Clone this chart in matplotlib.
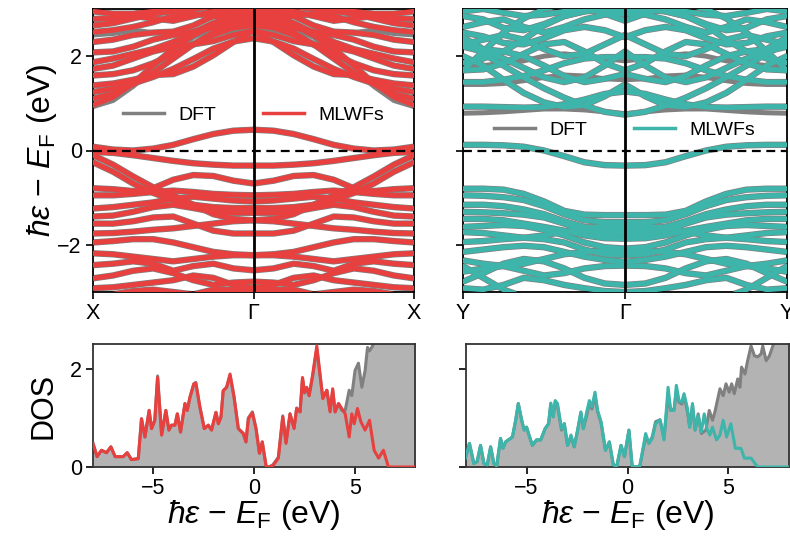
import numpy as np
import matplotlib
matplotlib.use("Agg")
import matplotlib.pyplot as plt

plt.rcParams['font.family'] = ['Liberation Sans', 'DejaVu Sans']
plt.rcParams['mathtext.fontset'] = 'custom'
plt.rcParams['mathtext.rm'] = 'Liberation Sans'
plt.rcParams['mathtext.it'] = 'Liberation Sans:italic'
plt.rcParams['mathtext.bf'] = 'Liberation Sans:bold'

# ---------------- data ----------------
# k-points along half path (high-symmetry edge -> Gamma), fractional
k_half = [0.0, 0.125, 0.25, 0.375, 0.5, 0.625, 0.75, 0.875, 1.0]

# Left panel (X - Gamma - X): energies along X -> Gamma (eV)
bands_x_mlwf = [
    [0.96, 1.13, 1.42, 1.80, 2.16, 2.44, 2.65, 2.79, 2.86],
    [1.24, 1.31, 1.42, 1.56, 1.73, 1.94, 2.16, 2.31, 2.38],
    [1.10, 1.20, 1.40, 1.65, 1.95, 2.25, 2.50, 2.68, 2.75],
    [1.38, 1.42, 1.50, 1.60, 1.62, 1.78, 2.02, 2.30, 2.54],
    [1.59, 1.62, 1.70, 1.85, 2.05, 2.25, 2.45, 2.60, 2.65],
    [1.73, 1.80, 1.95, 2.10, 2.20, 2.25, 2.32, 2.45, 2.54],
    [1.87, 1.95, 2.05, 2.15, 2.30, 2.50, 2.70, 2.85, 2.93],
    [2.08, 2.10, 2.20, 2.35, 2.45, 2.52, 2.60, 2.70, 2.72],
    [2.30, 2.35, 2.45, 2.50, 2.52, 2.65, 2.85, 2.95, 3.00],
    [2.51, 2.55, 2.62, 2.72, 2.85, 2.90, 2.85, 2.80, 2.79],
    [2.65, 2.70, 2.80, 2.90, 2.95, 3.00, 3.05, 3.10, 3.10],
    [2.79, 2.80, 2.85, 2.80, 2.75, 2.85, 2.95, 2.95, 2.93],
    [2.95, 2.90, 2.90, 2.95, 3.05, 3.10, 3.10, 3.05, 3.00],
    [0.08, 0.02, 0.00, 0.04, 0.12, 0.24, 0.35, 0.42, 0.44],
    [-0.03, -0.05, -0.10, -0.16, -0.22, -0.27, -0.30, -0.32, -0.32],
    [-0.10, -0.30, -0.55, -0.78, -0.95, -1.15, -1.35, -1.45, -1.48],
    [-0.25, -0.45, -0.70, -0.90, -1.05, -1.15, -1.20, -1.22, -1.22],
    [-0.80, -0.82, -0.86, -0.80, -0.62, -0.52, -0.54, -0.64, -0.70],
    [-0.95, -0.95, -0.92, -0.88, -0.85, -0.88, -0.92, -0.94, -0.95],
    [-1.23, -1.20, -1.15, -1.10, -1.02, -0.98, -1.02, -1.06, -1.08],
    [-1.40, -1.38, -1.30, -1.20, -1.15, -1.22, -1.30, -1.32, -1.32],
    [-1.55, -1.55, -1.50, -1.42, -1.40, -1.55, -1.70, -1.76, -1.76],
    [-1.76, -1.75, -1.72, -1.68, -1.65, -1.60, -1.55, -1.50, -1.48],
    [-1.95, -1.92, -1.88, -1.88, -1.95, -2.05, -2.15, -2.20, -2.22],
    [-2.18, -2.20, -2.25, -2.30, -2.35, -2.30, -2.25, -2.22, -2.22],
    [-2.43, -2.40, -2.35, -2.40, -2.55, -2.45, -2.40, -2.50, -2.54],
    [-2.71, -2.65, -2.55, -2.50, -2.60, -2.75, -2.85, -2.80, -2.78],
    [-2.92, -2.90, -2.85, -2.80, -2.75, -2.65, -2.70, -2.85, -2.92],
    [-3.10, -3.05, -2.98, -2.95, -3.00, -3.05, -2.95, -2.95, -3.00],
]
# DFT bands that deviate visibly from the Wannier bands (left)
bands_x_dft_extra = [
    [0.93, 1.06, 1.36, 1.74, 2.10, 2.40, 2.60, 2.75, 2.82],
    [2.45, 2.48, 2.55, 2.50, 2.45, 2.45, 2.50, 2.52, 2.52],
]

# Right panel (Y - Gamma - Y): energies along Y -> Gamma (eV)
bands_y_mlwf = [
    [0.93, 0.93, 0.92, 0.91, 0.92, 0.98, 1.08, 1.20, 1.25],
    [2.00, 1.80, 1.50, 1.22, 1.02, 0.92, 0.96, 1.15, 1.40],
    [2.30, 2.05, 1.80, 1.55, 1.32, 1.12, 0.95, 0.82, 0.76],
    [1.45, 1.45, 1.50, 1.58, 1.70, 1.85, 1.95, 1.98, 1.98],
    [1.70, 1.72, 1.85, 2.05, 2.25, 2.30, 2.10, 1.85, 1.70],
    [1.86, 1.95, 2.10, 2.00, 1.80, 1.58, 1.45, 1.52, 1.62],
    [2.20, 2.10, 1.95, 1.75, 1.55, 1.45, 1.55, 1.80, 2.10],
    [2.25, 2.35, 2.45, 2.35, 2.15, 2.00, 2.05, 2.25, 2.45],
    [2.50, 2.42, 2.28, 2.25, 2.38, 2.55, 2.62, 2.55, 2.40],
    [2.62, 2.72, 2.78, 2.62, 2.50, 2.62, 2.78, 2.88, 2.90],
    [2.85, 2.78, 2.60, 2.55, 2.68, 2.85, 2.95, 2.98, 2.98],
    [2.95, 3.00, 2.92, 2.85, 2.88, 2.95, 3.05, 2.90, 2.75],
    [1.70, 2.10, 2.50, 2.80, 3.00, 3.10, 3.10, 3.10, 3.10],
    [2.40, 2.15, 2.10, 2.35, 2.65, 2.85, 2.95, 3.05, 3.10],
    [0.12, 0.12, 0.11, 0.08, 0.00, -0.12, -0.25, -0.31, -0.32],
    [-0.81, -0.81, -0.83, -0.92, -1.08, -1.28, -1.36, -1.37, -1.37],
    [-0.95, -0.96, -0.99, -1.05, -1.18, -1.35, -1.48, -1.52, -1.52],
    [-1.15, -1.15, -1.18, -1.25, -1.35, -1.50, -1.62, -1.66, -1.66],
    [-1.30, -1.31, -1.33, -1.36, -1.42, -1.55, -1.70, -1.76, -1.76],
    [-1.45, -1.45, -1.48, -1.55, -1.62, -1.70, -1.80, -1.86, -1.87],
    [-1.62, -1.60, -1.58, -1.60, -1.68, -1.80, -1.95, -2.05, -2.08],
    [-1.73, -1.75, -1.80, -1.85, -1.80, -1.72, -1.65, -1.60, -1.58],
    [-1.94, -1.92, -1.88, -1.85, -1.88, -1.95, -2.10, -2.20, -2.22],
    [-2.15, -2.10, -2.05, -2.02, -2.05, -2.15, -2.25, -2.32, -2.36],
    [-2.33, -2.40, -2.45, -2.40, -2.30, -2.20, -2.15, -2.12, -2.12],
    [-2.57, -2.50, -2.45, -2.55, -2.65, -2.60, -2.50, -2.45, -2.44],
    [-2.78, -2.60, -2.40, -2.30, -2.35, -2.50, -2.70, -2.82, -2.85],
    [-2.92, -2.95, -2.85, -2.70, -2.75, -2.85, -2.92, -2.98, -3.00],
    [-2.45, -2.70, -2.95, -3.10, -3.10, -3.10, -3.10, -3.10, -3.10],
]
bands_y_dft_extra = [
    [0.79, 0.80, 0.82, 0.85, 0.88, 0.88, 0.86, 0.82, 0.78],
    [1.40, 1.40, 1.42, 1.48, 1.55, 1.60, 1.58, 1.52, 1.50],
    [1.79, 1.80, 1.85, 1.90, 2.00, 2.05, 2.00, 1.95, 1.90],
]

# DOS, left system (X-Gamma): Wannier curve vertices
dos_x_e_mlwf = [-8.0, -7.8, -7.58, -7.33, -7.11, -6.9, -6.5, -6.3, -6.09, -5.75, -5.59,
                -5.42, -5.21, -5.09, -4.93, -4.79, -4.59, -4.38, -4.23, -4.1, -3.93, -3.81,
                -3.65, -3.43, -3.32, -3.18, -2.99, -2.89, -2.69, -2.47, -2.27, -2.11, -1.89,
                -1.77, -1.64, -1.53, -1.36, -1.19, -0.99, -0.78, -0.53, -0.4, -0.28, -0.08,
                0.1, 0.27, 0.41, 0.6, 0.71, 0.93, 1.21, 1.43, 1.59, 1.79, 1.99, 2.12, 2.29,
                2.41, 2.51, 2.62, 2.74, 2.92, 3.12, 3.28, 3.42, 3.62, 3.78, 3.91, 4.03, 4.2,
                4.36, 4.53, 4.73, 4.86, 4.98, 5.14, 5.31, 5.52, 5.74, 5.97, 6.19, 6.43, 6.68,
                8.0]
dos_x_mlwf = [0.48, 0.21, 0.34, 0.29, 0.41, 0.21, 0.21, 0.29, 0.15, 0.17, 0.98,
              0.61, 1.15, 0.78, 0.95, 1.82, 0.65, 1.15, 0.75, 0.85, 0.85, 1.08,
              0.71, 1.29, 1.15, 1.42, 1.69, 1.70, 1.22, 0.78, 0.85, 0.75, 1.11,
              0.88, 1.02, 1.55, 1.62, 1.89, 1.42, 0.78, 0.68, 0.51, 0.98, 1.10,
              0.78, 0.28, 0.51, 0.02, 0.0, 0.02, 0.18, 1.02, 0.48, 1.08, 0.78, 1.19, 1.12,
              1.82, 1.52, 1.62, 1.45, 1.89, 2.46, 1.89, 1.39, 1.56, 1.12, 1.59, 1.12, 1.29,
              1.19, 1.08, 0.61, 1.08, 0.88, 1.19, 0.92, 0.75, 0.95, 0.34, 0.18, 0.34, 0.0,
              0.0]
# DFT curve (left)
dos_x_e_dft = [-8.0, -7.8, -7.58, -7.33, -7.11, -6.9, -6.5, -6.3, -6.09, -5.75, -5.59,
               -5.42, -5.21, -5.09, -4.93, -4.79, -4.59, -4.38, -4.23, -4.1, -3.93, -3.81,
               -3.65, -3.43, -3.32, -3.18, -2.99, -2.89, -2.69, -2.47, -2.27, -2.11, -1.89,
               -1.77, -1.64, -1.53, -1.36, -1.19, -0.99, -0.78, -0.53, -0.4, -0.28, -0.08,
               0.1, 0.27, 0.41, 0.6, 0.71, 0.93, 1.21, 1.43, 1.59, 1.79, 1.99, 2.12, 2.29,
               2.41, 2.51, 2.62, 2.74, 2.92, 3.12, 3.28, 3.42, 3.62, 3.78, 3.91, 4.03, 4.2,
               4.36, 4.53, 4.73, 4.86, 5.02, 5.19, 5.36, 5.52, 5.64, 5.74, 5.85, 6.0, 6.3,
               6.8, 7.4, 8.0]
dos_x_dft = [0.48, 0.21, 0.34, 0.29, 0.41, 0.21, 0.21, 0.29, 0.15, 0.17, 0.98,
             0.61, 1.15, 0.78, 0.95, 1.85, 0.65, 1.15, 0.75, 0.85, 0.85, 1.08,
             0.71, 1.29, 1.15, 1.42, 1.69, 1.72, 1.22, 0.78, 0.85, 0.75, 1.11,
             0.88, 1.02, 1.55, 1.62, 1.86, 1.42, 0.78, 0.68, 0.51, 1.0, 1.12,
             0.78, 0.28, 0.51, 0.02, 0.0, 0.04, 0.2, 1.04, 0.5, 1.08, 0.8, 1.2, 1.12,
             1.80, 1.50, 1.60, 1.45, 1.86, 2.40, 1.86, 1.40, 1.56, 1.15, 1.56, 1.12, 1.29,
             1.15, 1.15, 1.56, 1.45, 1.96, 2.11, 1.62, 1.96, 2.43, 2.36, 2.43, 2.55, 2.7,
             2.9, 3.1, 3.2]

# DOS, right system (Y-Gamma)
dos_y_e_mlwf = [-8.03, -7.83, -7.61, -7.45, -7.28, -7.11, -6.95, -6.78, -6.62, -6.48, -6.29,
                -6.17, -6.04, -5.7, -5.54, -5.41, -5.24, -5.12, -5.0, -4.88, -4.71, -4.51,
                -4.3, -4.08, -3.91, -3.8, -3.68, -3.58, -3.47, -3.27, -3.13, -2.97, -2.8,
                -2.64, -2.47, -2.31, -2.19, -2.02, -1.89, -1.76, -1.61, -1.48, -1.31, -1.09,
                -0.9, -0.7, -0.53, -0.32, -0.15, 0.07, 0.23, 0.4, 0.61, 0.9, 1.06, 1.23,
                1.39, 1.61, 1.81, 2.01, 2.14, 2.31, 2.42, 2.55, 2.69, 2.8, 2.97, 3.08, 3.22,
                3.35, 3.5, 3.66, 3.8, 3.93, 4.08, 4.21, 4.41, 4.58, 4.74, 4.91, 5.12, 5.34,
                5.62, 5.79, 6.12, 6.45, 8.0]
dos_y_mlwf = [0.18, 0.48, 0.07, 0.11, 0.44, 0.07, 0.04, 0.41, 0.07, 0.02, 0.58,
              0.38, 0.51, 0.61, 0.95, 1.29, 0.95, 0.75, 0.81, 0.65, 0.44, 0.55,
              0.55, 0.78, 0.88, 1.30, 1.02, 1.35, 1.29, 0.78, 0.88, 0.44, 0.65,
              0.41, 0.75, 1.12, 0.78, 1.12, 1.35, 1.22, 1.52, 1.15, 0.92, 0.34,
              0.51, 0.04, 0.02, 0.44, 0.21, 0.75, 0.02, 0.0, 0.02, 0.68, 0.48, 0.58,
              0.88, 0.96, 0.55, 1.62, 1.15, 1.15, 1.66, 1.35, 1.32, 1.49, 1.19, 0.81, 1.29,
              0.75, 1.05, 0.71, 1.08, 0.78, 0.65, 0.81, 0.55, 0.65, 0.95, 0.61, 0.88, 0.38,
              0.38, 0.18, 0.18, 0.0, 0.0]
dos_y_e_dft = [-8.03, -7.83, -7.61, -7.45, -7.28, -7.11, -6.95, -6.78, -6.62, -6.48, -6.29,
               -6.17, -6.04, -5.7, -5.54, -5.41, -5.24, -5.12, -5.0, -4.88, -4.71, -4.51,
               -4.3, -4.08, -3.91, -3.8, -3.68, -3.58, -3.47, -3.27, -3.13, -2.97, -2.8,
               -2.64, -2.47, -2.31, -2.19, -2.02, -1.89, -1.76, -1.61, -1.48, -1.31, -1.09,
               -0.9, -0.7, -0.53, -0.32, -0.15, 0.07, 0.23, 0.4, 0.61, 0.9, 1.06, 1.23,
               1.39, 1.61, 1.81, 2.01, 2.14, 2.31, 2.42, 2.55, 2.69, 2.8, 2.97, 3.08, 3.22,
               3.35, 3.5, 3.66, 3.88, 4.05, 4.21, 4.33, 4.58, 4.74, 4.88, 5.04, 5.16, 5.29,
               5.46, 5.57, 5.65, 5.82, 5.95, 6.12, 6.29, 6.45, 6.62, 6.7, 6.87, 7.03, 7.2,
               7.28, 7.6, 8.0]
dos_y_dft = [0.18, 0.48, 0.07, 0.11, 0.44, 0.07, 0.04, 0.41, 0.07, 0.02, 0.58,
             0.38, 0.51, 0.61, 0.95, 1.29, 0.95, 0.75, 0.81, 0.65, 0.44, 0.55,
             0.55, 0.78, 0.88, 1.28, 1.02, 1.33, 1.26, 0.75, 0.88, 0.44, 0.62,
             0.41, 0.75, 1.10, 0.78, 1.05, 1.30, 1.18, 1.45, 1.12, 0.90, 0.34,
             0.51, 0.04, 0.02, 0.44, 0.21, 0.75, 0.02, 0.0, 0.02, 0.62, 0.48, 0.62,
             0.92, 0.96, 0.60, 1.45, 1.15, 1.18, 1.55, 1.32, 1.28, 1.45, 1.12, 0.81, 1.25,
             0.75, 1.08, 0.68, 0.75, 1.15, 0.95, 1.12, 1.59, 1.45, 1.69, 1.52, 1.69, 1.49,
             1.79, 1.62, 2.03, 1.89, 2.16, 2.46, 2.26, 2.24, 2.30, 2.46, 2.16, 2.26, 2.46,
             2.57, 2.8, 3.0]

klabels_x = ['X', 'Γ', 'X']
klabels_y = ['Y', 'Γ', 'Y']
energy_label = r'$\hbar\varepsilon$ − $E_{\mathrm{F}}$ (eV)'

# ---------------- style ----------------
c_dft = '#808080'
c_fill = '#b3b3b3'
c_red = '#e8403f'
c_teal = '#3db5aa'

fig = plt.figure(figsize=(7.9, 5.37), dpi=100)
W, H = 790.0, 537.0
def add_ax(l, t, r, b):
    return fig.add_axes([l / W, 1 - b / H, (r - l) / W, (b - t) / H])

ax_b1 = add_ax(93, 9, 414, 292)
ax_b2 = add_ax(463, 9, 787, 292)
ax_d1 = add_ax(93, 344, 415, 467)
ax_d2 = add_ax(466, 344, 789, 467)

k_full = np.concatenate([np.array(k_half), 2 - np.array(k_half[-2::-1])])

def full(b):
    b = list(b)
    return b + b[-2::-1]

def draw_bands(ax, mlwf, extra, color, labels):
    for b in extra:
        ax.plot(k_full, full(b), color=c_dft, lw=3.6, zorder=1)
    for b in mlwf:
        ax.plot(k_full, full(b), color=c_dft, lw=4.6, zorder=2)
    for b in mlwf:
        ax.plot(k_full, full(b), color=color, lw=3.6, zorder=3)
    ax.axhline(0, color='black', ls='--', lw=1.6, dashes=(4, 2.5), zorder=5)
    ax.axvline(1.0, color='black', lw=2, zorder=5)
    ax.set_xlim(0, 2)
    ax.set_ylim(-3, 3)
    ax.set_xticks([0, 1, 2])
    ax.set_xticklabels(labels)
    ax.set_yticks([-2, 0, 2])
    ax.plot([], [], color=c_dft, lw=2.5, label='DFT')
    ax.plot([], [], color=color, lw=2.5, label='MLWFs')

draw_bands(ax_b1, bands_x_mlwf, bands_x_dft_extra, c_red, klabels_x)
draw_bands(ax_b2, bands_y_mlwf, bands_y_dft_extra, c_teal, klabels_y)
ax_b2.set_yticklabels([])

leg_kw = dict(ncol=2, frameon=False, loc='center', fontsize=14, handlelength=2.1,
              columnspacing=2.4, handletextpad=0.75)
leg1 = ax_b1.legend(bbox_to_anchor=(0.5, 0.625), **leg_kw)
leg2 = ax_b2.legend(bbox_to_anchor=(0.5, 0.572), **leg_kw)
for leg in (leg1, leg2):
    leg.set_zorder(10)

ax_b1.set_ylabel(energy_label, fontsize=23, labelpad=-1)

def draw_dos(ax, e_dft, d_dft, e_w, d_w, color):
    ax.fill_between(e_dft, 0, d_dft, color=c_fill, lw=0, zorder=1)
    ax.plot(e_dft, d_dft, color=c_dft, lw=2.2, zorder=2)
    ax.plot(e_w, d_w, color=color, lw=2.2, zorder=3)
    ax.set_xlim(-8, 8)
    ax.set_ylim(0, 2.5)
    ax.set_xticks([-5, 0, 5])
    ax.set_yticks([0, 2])
    ax.set_xlabel(energy_label, fontsize=23, labelpad=-1)
    for s in ax.spines.values():
        s.set_color('#333333')

draw_dos(ax_d1, dos_x_e_dft, dos_x_dft, dos_x_e_mlwf, dos_x_mlwf, c_red)
draw_dos(ax_d2, dos_y_e_dft, dos_y_dft, dos_y_e_mlwf, dos_y_mlwf, c_teal)
ax_d2.set_yticklabels([])
ax_d1.set_ylabel('DOS', fontsize=22, labelpad=8)

for ax in (ax_b1, ax_b2, ax_d1, ax_d2):
    ax.tick_params(labelsize=15.5, length=5, width=1.2, pad=3)
    for s in ax.spines.values():
        s.set_linewidth(1.3)

fig.savefig('out.png', dpi=100)
